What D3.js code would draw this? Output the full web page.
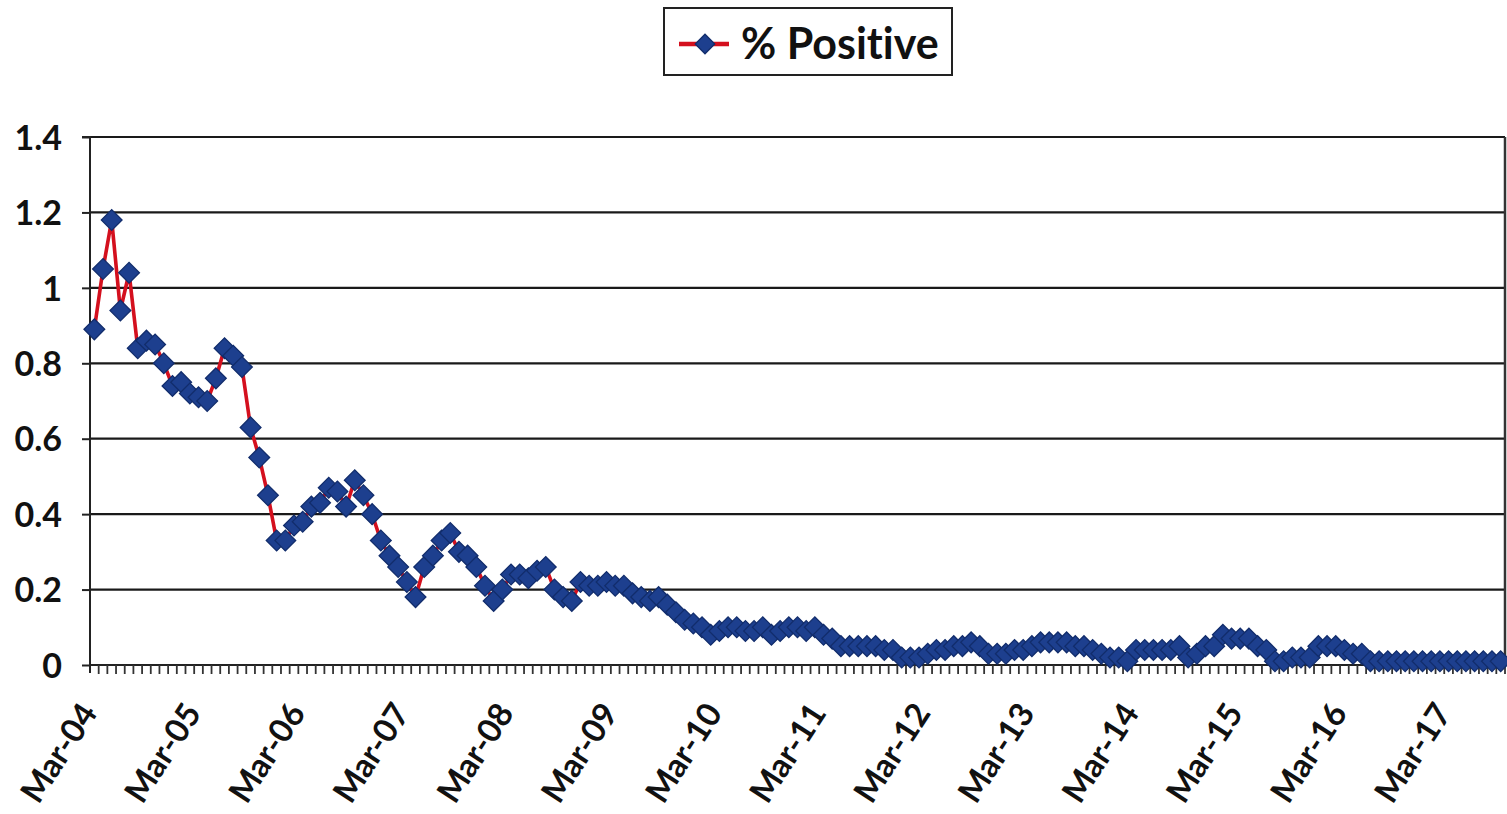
<!DOCTYPE html>
<html>
<head>
<meta charset="utf-8">
<script src="https://cdn.jsdelivr.net/npm/d3@7"></script>
<style>
html,body{margin:0;padding:0;background:#fff;}
svg{display:block;}
text{font-family:Lato,"Open Sans",sans-serif;font-weight:bold;fill:#111;font-variant-ligatures:none;font-feature-settings:"liga" 0;}
</style>
</head>
<body>
<svg id="chart" width="1507" height="814"></svg>
<script>
const seriesName = "% Positive";
const startYear = 2004, startMonth = 2; // March 2004
const values = [
 0.89,1.05,1.18,0.94,1.04,0.84,0.86,0.85,0.80,0.74,0.75,0.72,
 0.71,0.70,0.76,0.84,0.82,0.79,0.63,0.55,0.45,0.33,0.33,0.37,
 0.38,0.42,0.43,0.47,0.46,0.42,0.49,0.45,0.40,0.33,0.29,0.26,
 0.22,0.18,0.26,0.29,0.33,0.35,0.30,0.29,0.26,0.21,0.17,0.20,
 0.24,0.24,0.23,0.25,0.26,0.20,0.18,0.17,0.22,0.21,0.21,0.22,
 0.21,0.21,0.19,0.18,0.17,0.18,0.16,0.14,0.12,0.11,0.10,0.08,
 0.09,0.10,0.10,0.09,0.09,0.10,0.08,0.09,0.10,0.10,0.09,0.10,
 0.08,0.07,0.05,0.05,0.05,0.05,0.05,0.04,0.04,0.02,0.02,0.02,
 0.03,0.04,0.04,0.05,0.05,0.06,0.05,0.03,0.03,0.03,0.04,0.04,
 0.05,0.06,0.06,0.06,0.06,0.05,0.05,0.04,0.03,0.02,0.02,0.01,
 0.04,0.04,0.04,0.04,0.04,0.05,0.02,0.03,0.05,0.05,0.08,0.07,
 0.07,0.07,0.05,0.04,0.01,0.01,0.02,0.02,0.02,0.05,0.05,0.05,
 0.04,0.03,0.03,0.01,0.01,0.01,0.01,0.01,0.01,0.01,0.01,0.01,
 0.01,0.01,0.01,0.01,0.01,0.01,0.01
];
const yTicks = [0,0.2,0.4,0.6,0.8,1,1.2,1.4];
const monthNames = ["Jan","Feb","Mar","Apr","May","Jun","Jul","Aug","Sep","Oct","Nov","Dec"];
const categories = values.map((v,i)=>{
  const m = startMonth + i;
  const yr = startYear + Math.floor(m/12);
  return monthNames[m%12] + "-" + String(yr%100).padStart(2,"0");
});
const labelCats = categories.filter((c,i)=>i%12===0);

(function(){
const svg = d3.select("#chart");
const L = 90, R = 1505, T = 137, B = 665;

const x = d3.scaleBand().domain(categories).range([L,R]).padding(0);
const y = d3.scaleLinear().domain([0,1.4]).range([B,T]);
const cx = c => x(c) + x.bandwidth()/2;

// gridlines
svg.append("g").selectAll("line").data(yTicks.filter(t=>t>0)).join("line")
  .attr("x1",L).attr("x2",R).attr("y1",d=>y(d)).attr("y2",d=>y(d))
  .attr("stroke","#1a1a1a").attr("stroke-width",2.2);
// right border
svg.append("line").attr("x1",R).attr("x2",R).attr("y1",T).attr("y2",B)
  .attr("stroke","#333").attr("stroke-width",2.5);

// y axis
const yAxis = svg.append("g").attr("transform",`translate(${L},0)`)
  .call(d3.axisLeft(y).tickValues(yTicks).tickFormat(d=>String(d)).tickSize(8).tickPadding(20));
yAxis.select(".domain").attr("stroke","#222").attr("stroke-width",2).attr("d",`M-8,${T}H0V${B+8}`);
yAxis.selectAll(".tick line").attr("stroke","#222").attr("stroke-width",2);
yAxis.selectAll(".tick text").attr("font-size",34).attr("font-family","Lato").attr("font-weight","bold").attr("fill","#111").attr("dy","0.36em");

// x axis: baseline and per-category ticks
svg.append("line").attr("x1",L).attr("x2",R).attr("y1",B).attr("y2",B)
  .attr("stroke","#222").attr("stroke-width",2);
svg.append("g").selectAll("line").data(categories).join("line")
  .attr("x1",d=>x(d)+x.bandwidth()).attr("x2",d=>x(d)+x.bandwidth())
  .attr("y1",B).attr("y2",B+9)
  .attr("stroke","#333").attr("stroke-width",1.8);
svg.append("g").selectAll("text").data(labelCats).join("text")
  .attr("transform",d=>`translate(${cx(d)+4},${B+48}) rotate(-57)`)
  .attr("text-anchor","end").attr("font-size",33).text(d=>d);

// line
const line = d3.line().x((d,i)=>cx(categories[i])).y(d=>y(d));
svg.append("path").datum(values).attr("d",line)
  .attr("fill","none").attr("stroke","#d4101e").attr("stroke-width",3.6);

// markers
const sym = d3.symbol().type(d3.symbolSquare).size(215);
svg.append("g").selectAll("path").data(values).join("path")
  .attr("d",sym)
  .attr("transform",(d,i)=>`translate(${cx(categories[i])},${y(d)}) rotate(45)`)
  .attr("fill","#1d3f8e").attr("stroke","#122d6c").attr("stroke-width",1.3);

// legend
const lg = svg.append("g");
lg.append("rect").attr("x",664).attr("y",8).attr("width",288).attr("height",67)
  .attr("fill","#fff").attr("stroke","#222").attr("stroke-width",2);
lg.append("line").attr("x1",679).attr("x2",729).attr("y1",44).attr("y2",44)
  .attr("stroke","#d4101e").attr("stroke-width",4.5);
lg.append("path").attr("d",d3.symbol().type(d3.symbolSquare).size(190)).attr("transform","translate(705,44) rotate(45)")
  .attr("fill","#1d3f8e").attr("stroke","#122d6c").attr("stroke-width",1.3);
lg.append("text").attr("x",741).attr("y",59).attr("font-size",43).text(seriesName);
})();
</script>
</body>
</html>
